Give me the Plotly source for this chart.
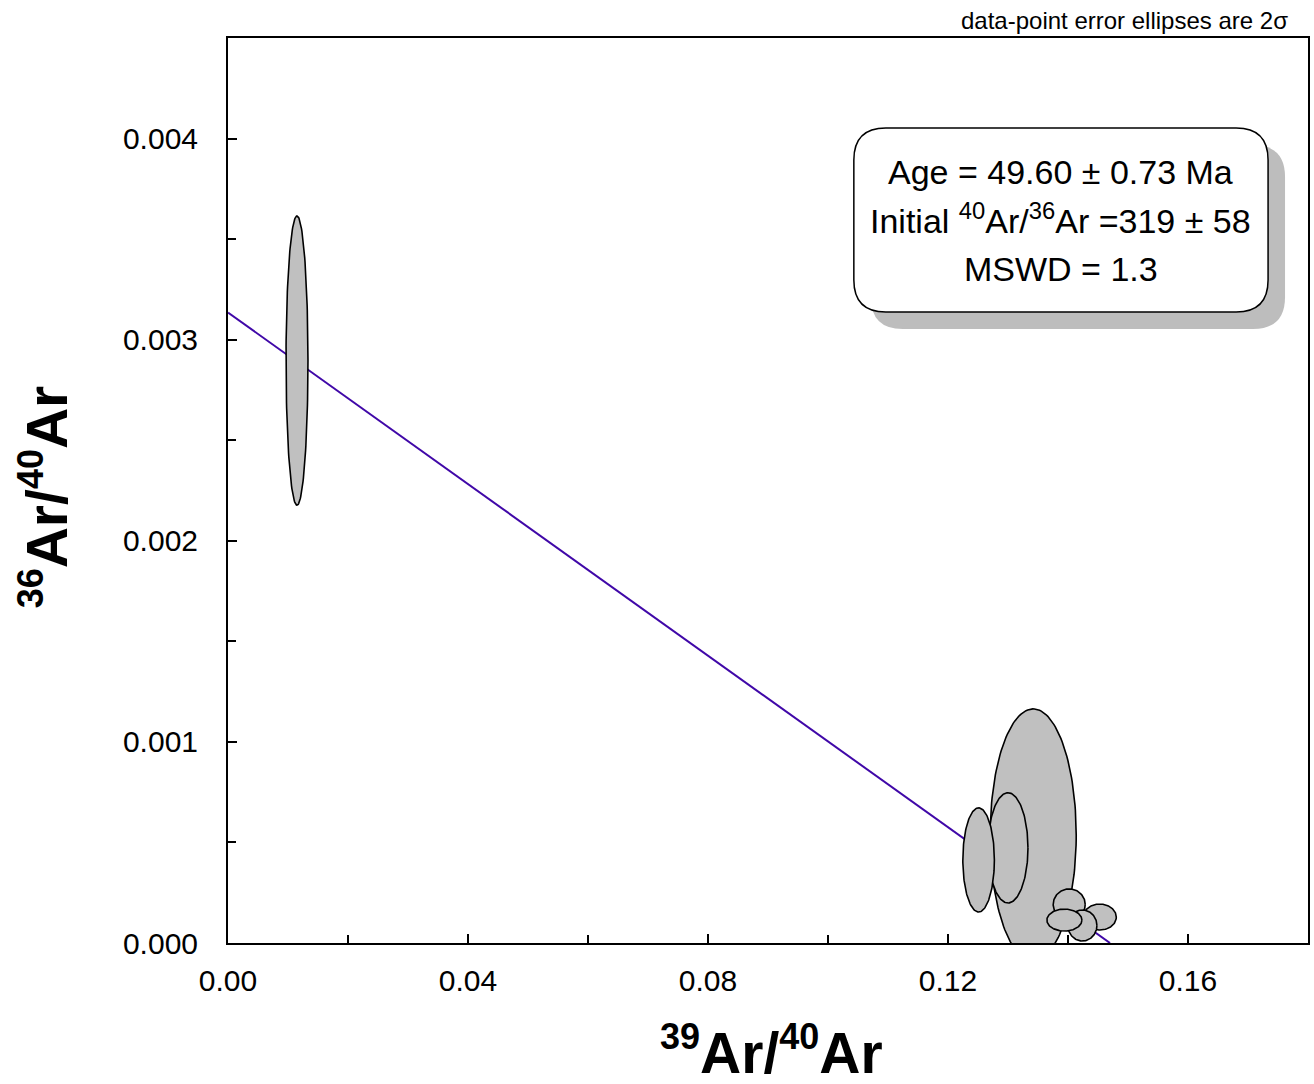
import numpy as np
import plotly.graph_objects as go

# ---- data ----
x_center = [0.0115, 0.1342, 0.1300, 0.1251, 0.1453, 0.1402, 0.1424, 0.1394]
x_halfwidth = [0.00183, 0.00717, 0.00333, 0.00263, 0.00275, 0.00267, 0.00242, 0.00292]
y_center = [0.002896, 0.000537, 0.000473, 0.000413, 0.000129, 0.000192, 0.0000871, 0.000114]
y_halfheight = [0.000719, 0.000627, 0.000274, 0.000259, 0.0000647, 0.000077, 0.0000771, 0.0000547]

line_y_intercept = 0.003135
line_x_intercept = 0.1470

x_ticks = [0.00, 0.04, 0.08, 0.12, 0.16]
y_ticks = [0.000, 0.001, 0.002, 0.003, 0.004]

box_lines = ["Age = 49.60 ± 0.73 Ma",
             "Initial <sup>40</sup>Ar/<sup>36</sup>Ar =319 ± 58",
             "MSWD = 1.3"]

FONT = "Liberation Sans, Arial, sans-serif"

fig = go.Figure()

# isochron line
fig.add_trace(go.Scatter(x=[0, line_x_intercept], y=[line_y_intercept, 0],
                         mode="lines", line=dict(color="#4008a8", width=2),
                         hoverinfo="skip", showlegend=False))

# ellipses
t = np.linspace(0, 2 * np.pi, 160)
for xc, hw, yc, hh in zip(x_center, x_halfwidth, y_center, y_halfheight):
    fig.add_trace(go.Scatter(x=xc + hw * np.cos(t), y=yc + hh * np.sin(t),
                             mode="lines", fill="toself", fillcolor="#c0c0c0",
                             line=dict(color="black", width=1.6),
                             hoverinfo="skip", showlegend=False))

# plot area in pixels
L, R, T, B = 228, 1310, 38, 943
W, H = R - L, B - T


def rounded_path(x0, y0, x1, y1, r):
    # pixel coords -> paper coords
    def px(x):
        return (x - L) / W

    def py(y):
        return (B - y) / H
    p = []
    p.append(f"M {px(x0 + r)} {py(y0)}")
    p.append(f"L {px(x1 - r)} {py(y0)}")
    p.append(f"Q {px(x1)} {py(y0)} {px(x1)} {py(y0 + r)}")
    p.append(f"L {px(x1)} {py(y1 - r)}")
    p.append(f"Q {px(x1)} {py(y1)} {px(x1 - r)} {py(y1)}")
    p.append(f"L {px(x0 + r)} {py(y1)}")
    p.append(f"Q {px(x0)} {py(y1)} {px(x0)} {py(y1 - r)}")
    p.append(f"L {px(x0)} {py(y0 + r)}")
    p.append(f"Q {px(x0)} {py(y0)} {px(x0 + r)} {py(y0)}")
    p.append("Z")
    return " ".join(p)


bx0, by0, bx1, by1 = 855, 128, 1270, 312
sh = 17
fig.add_shape(type="path", xref="paper", yref="paper",
              path=rounded_path(bx0 + sh, by0 + sh, bx1 + sh, by1 + sh, 32),
              fillcolor="#bdbdbd", line=dict(width=0), layer="above")
fig.add_shape(type="path", xref="paper", yref="paper",
              path=rounded_path(bx0, by0, bx1, by1, 32),
              fillcolor="white", line=dict(color="black", width=1.5), layer="above")

cx = ((bx0 + bx1) / 2 - L) / W
for i, (txt, ypx) in enumerate(zip(box_lines, [172, 219, 269])):
    fig.add_annotation(text=txt, xref="paper", yref="paper", x=cx, y=(B - ypx) / H,
                       xanchor="center", yanchor="middle", showarrow=False,
                       font=dict(family=FONT, size=34, color="black"))

# axis labels
sup = '<sup><span style="font-size:36px">{}</span></sup>'
lab_x = "<b>" + sup.format("39") + "Ar/" + sup.format("40") + "Ar</b>"
lab_y = "<b>" + sup.format("36") + "Ar/" + sup.format("40") + "Ar</b>"
fig.add_annotation(text=lab_x, xref="paper", yref="paper",
                   x=(773 - L) / W, y=(B - 1050) / H, xanchor="center", yanchor="middle",
                   showarrow=False, font=dict(family=FONT, size=57, color="black"))
fig.add_annotation(text=lab_y, xref="paper", yref="paper",
                   x=(44 - L) / W, y=(B - 497) / H, xanchor="center", yanchor="middle",
                   textangle=-90, showarrow=False,
                   font=dict(family=FONT, size=57, color="black"))
fig.add_annotation(text="data-point error ellipses are 2σ", xref="paper", yref="paper",
                   x=(1292 - L) / W, y=(B - 21) / H, xanchor="right", yanchor="middle",
                   showarrow=False, font=dict(family=FONT, size=24, color="black"))

fig.update_xaxes(range=[0, 0.18], tickvals=x_ticks, tickformat=".2f",
                 ticks="inside", ticklen=9, tickwidth=2, tickcolor="black",
                 minor=dict(dtick=0.02, tick0=0, ticks="inside", ticklen=8, tickwidth=2, tickcolor="black"),
                 showline=True, linecolor="black", linewidth=2, mirror=True,
                 showgrid=False, zeroline=False, ticklabelstandoff=10,
                 tickfont=dict(family=FONT, size=30, color="black"))
fig.update_yaxes(range=[0, 0.0045], tickvals=y_ticks, tickformat=".3f",
                 ticks="inside", ticklen=9, tickwidth=2, tickcolor="black",
                 minor=dict(dtick=0.0005, tick0=0, ticks="inside", ticklen=8, tickwidth=2, tickcolor="black"),
                 showline=True, linecolor="black", linewidth=2, mirror=True,
                 showgrid=False, zeroline=False, ticklabelstandoff=22,
                 tickfont=dict(family=FONT, size=30, color="black"))

fig.update_layout(width=1314, height=1084, margin=dict(l=L, r=1314 - R, t=T, b=1084 - B),
                  plot_bgcolor="white", paper_bgcolor="white", showlegend=False)

fig.write_html("out.html")
